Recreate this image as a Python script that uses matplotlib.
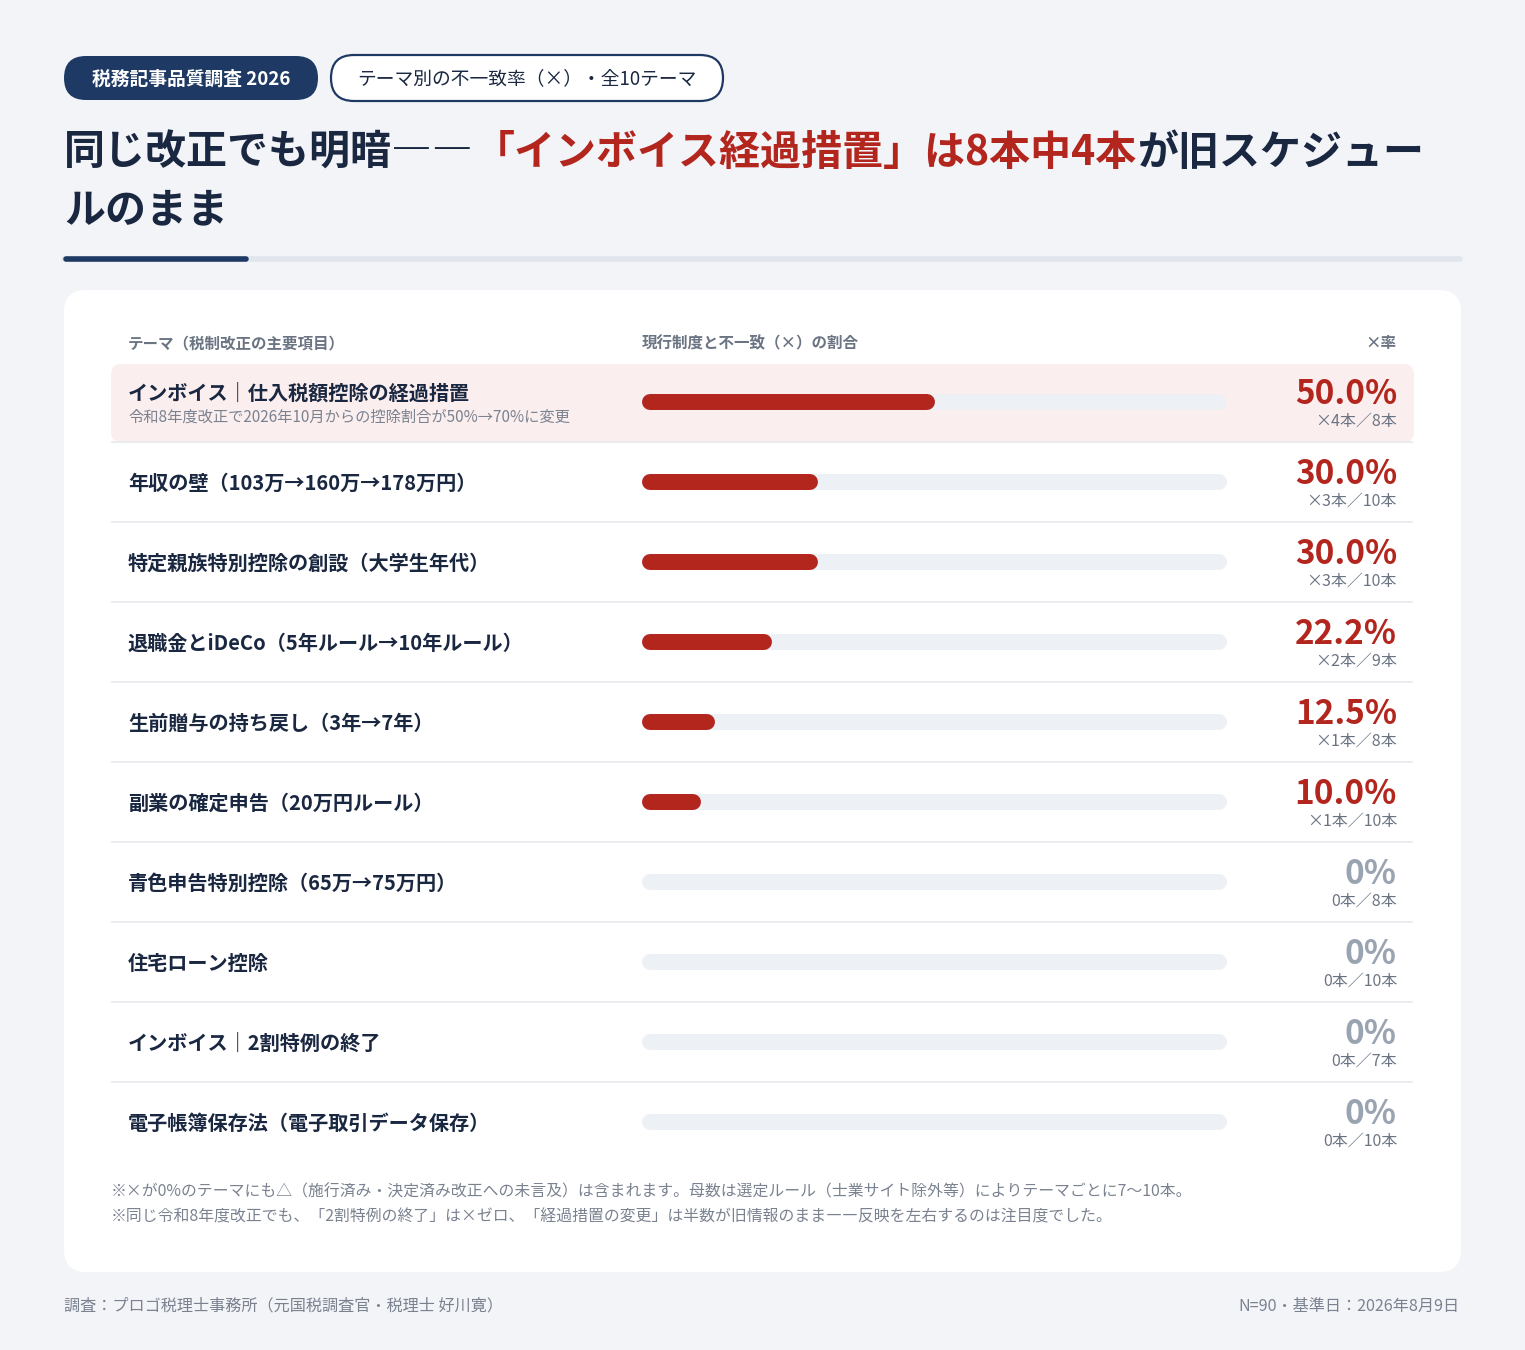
import matplotlib
matplotlib.use("Agg")
import matplotlib.pyplot as plt
from matplotlib.patches import FancyBboxPatch

plt.rcParams['font.family'] = ['Noto Sans CJK JP', 'DejaVu Sans']

themes = ["インボイス｜仕入税額控除の経過措置", "年収の壁（103万→160万→178万円）", "特定親族特別控除の創設（大学生年代）",
          "退職金とiDeCo（5年ルール→10年ルール）", "生前贈与の持ち戻し（3年→7年）", "副業の確定申告（20万円ルール）",
          "青色申告特別控除（65万→75万円）", "住宅ローン控除", "インボイス｜2割特例の終了", "電子帳簿保存法（電子取引データ保存）"]
subtitle0 = "令和8年度改正で2026年10月からの控除割合が50%→70%に変更"
rates = [50.0, 30.0, 30.0, 22.2, 12.5, 10.0, 0, 0, 0, 0]
counts_x = [4, 3, 3, 2, 1, 1, 0, 0, 0, 0]
totals = [8, 10, 10, 9, 8, 10, 8, 10, 7, 10]

NAVY = "#1e3a64"; DARK = "#1a2740"; RED = "#b3261e"; GRAY = "#8a94a3"; TRACK = "#edf0f4"

fig = plt.figure(figsize=(15.25, 13.5), dpi=100)
fig.patch.set_facecolor("#f3f4f8")
ax = fig.add_axes([0, 0, 1, 1])
ax.set_xlim(0, 1525); ax.set_ylim(1350, 0); ax.axis("off")

def rbox(x, y, w, h, r, fc, ec="none", lw=0, z=1):
    ax.add_patch(FancyBboxPatch((x + r, y + r), w - 2 * r, h - 2 * r, boxstyle=f"round,pad={r}",
                                fc=fc, ec=ec, lw=lw, zorder=z))

# badges
rbox(64, 56, 254, 44, 22, NAVY)
ax.text(191, 79, "税務記事品質調査 2026", color="white", fontsize=13.5, fontweight="bold", ha="center", va="center")
rbox(331, 55, 392, 46, 23, "white", NAVY, 1.6)
ax.text(527, 79, "テーマ別の不一致率（×）・全10テーマ", color=DARK, fontsize=13.5, ha="center", va="center")

# title
fig.canvas.draw()
r = fig.canvas.get_renderer()
parts = [("同じ改正でも明暗――", DARK), ("「インボイス経過措置」は8本中4本", RED), ("が旧スケジュー", DARK)]
x = 64
for s, c in parts:
    t = ax.text(x, 153, s, color=c, fontsize=29.5, fontweight="bold", ha="left", va="center")
    bb = t.get_window_extent(r)
    x += bb.width
ax.text(64, 210, "ルのまま", color=DARK, fontsize=29.5, fontweight="bold", ha="left", va="center")

ax.plot([64, 1460], [259, 259], color="#e1e5ec", lw=4, solid_capstyle="round")
ax.plot([66, 246], [259, 259], color=NAVY, lw=4, solid_capstyle="round")

# card
rbox(64, 290, 1397, 982, 22, "white")

ax.text(128, 343, "テーマ（税制改正の主要項目）", color="#6b7483", fontsize=11.2, fontweight="bold", ha="left", va="center")
ax.text(642, 343, "現行制度と不一致（×）の割合", color="#6b7483", fontsize=11.2, fontweight="bold", ha="left", va="center")
ax.text(1396, 343, "×率", color="#6b7483", fontsize=11.2, fontweight="bold", ha="right", va="center")

x0, W = 642, 585
rbox(111, 364, 1303, 78, 10, "#fbeeee", z=1)
for i, (th, rt, cx, tot) in enumerate(zip(themes, rates, counts_x, totals)):
    yc = 402 + 80 * i
    if i < len(themes) - 1:
        ax.plot([112, 1412], [yc + 40, yc + 40], color="#e6e9ee", lw=1.2, zorder=2)
    if i == 0:
        ax.text(128, 393, th, color=DARK, fontsize=14.5, fontweight="bold", ha="left", va="center", zorder=3)
        ax.text(128, 417, subtitle0, color="#7a8290", fontsize=11, ha="left", va="center", zorder=3)
    else:
        ax.text(128, yc + 1, th, color=DARK, fontsize=14.5, fontweight="bold", ha="left", va="center", zorder=3)
    ax.plot([x0 + 8, x0 + W - 8], [yc, yc], color=TRACK, lw=11.5, solid_capstyle="round", zorder=3)
    if rt > 0:
        ax.plot([x0 + 8, x0 + rt / 100 * W - 8], [yc, yc], color=RED, lw=11.5, solid_capstyle="round", zorder=4)
        ax.text(1397, yc - 7, f"{rt:.1f}%", color=RED, fontsize=24, fontweight="bold", ha="right", va="center", zorder=3)
        ax.text(1397, yc + 19, f"×{cx}本／{tot}本", color="#6b7483", fontsize=11.5, ha="right", va="center", zorder=3)
    else:
        ax.text(1397, yc - 7, "0%", color="#9aa3b2", fontsize=24, fontweight="bold", ha="right", va="center", zorder=3)
        ax.text(1397, yc + 19, f"0本／{tot}本", color="#6b7483", fontsize=11.5, ha="right", va="center", zorder=3)

ax.text(111, 1192, "※×が0%のテーマにも△（施行済み・決定済み改正への未言及）は含まれます。母数は選定ルール（士業サイト除外等）によりテーマごとに7〜10本。",
        color="#7a8290", fontsize=11.4, ha="left", va="center")
ax.text(111, 1217, "※同じ令和8年度改正でも、「2割特例の終了」は×ゼロ、「経過措置の変更」は半数が旧情報のまま――反映を左右するのは注目度でした。",
        color="#7a8290", fontsize=11.4, ha="left", va="center")

ax.text(64, 1306, "調査：プロゴ税理士事務所（元国税調査官・税理士 好川寛）", color="#7a8290", fontsize=11.6, ha="left", va="center")
ax.text(1460, 1306, "N=90・基準日：2026年8月9日", color="#7a8290", fontsize=11.6, ha="right", va="center")

fig.savefig("out.png", dpi=100, facecolor=fig.get_facecolor())
